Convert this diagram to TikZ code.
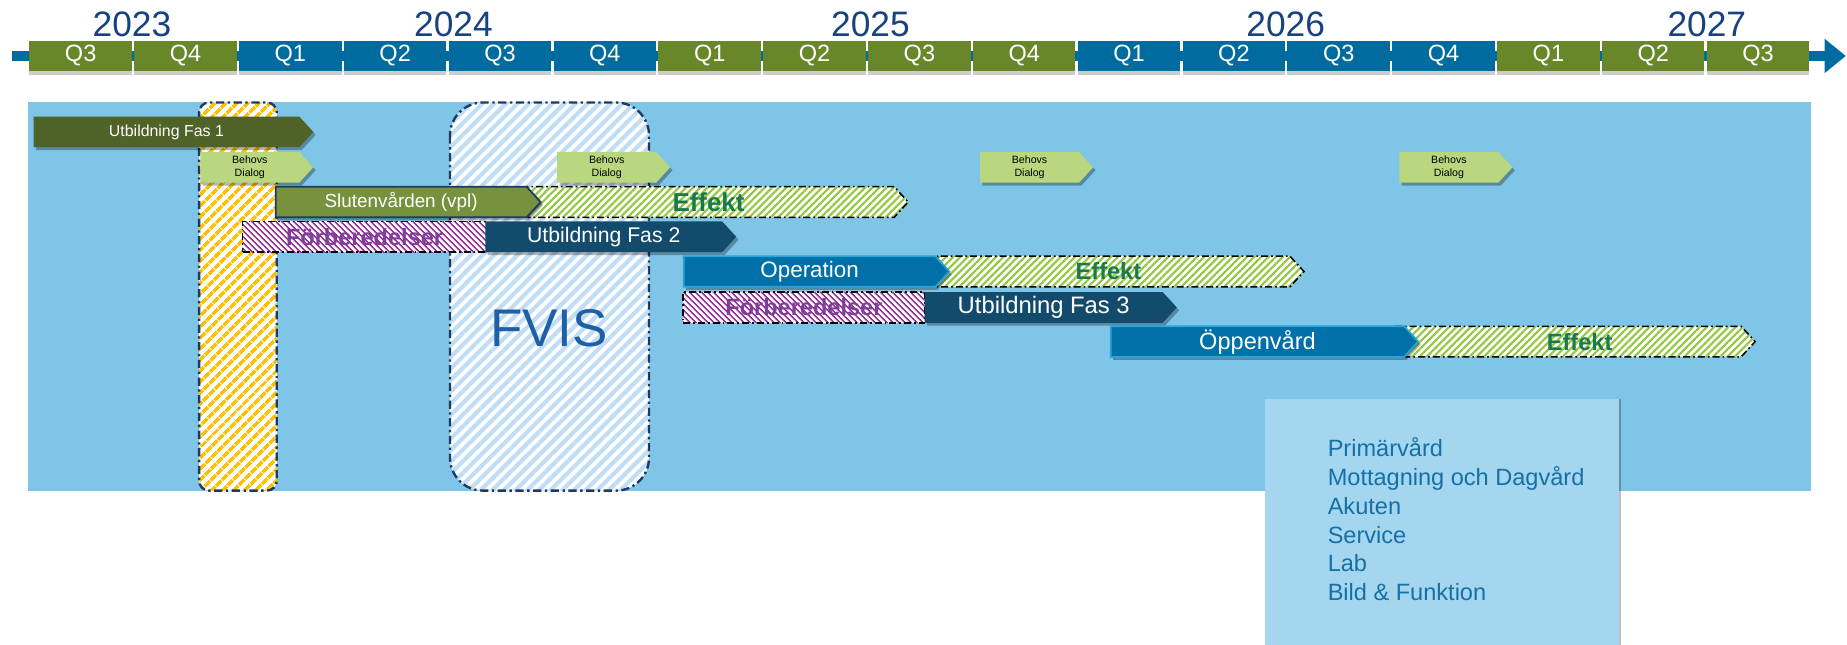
\documentclass[tikz,border=0pt]{standalone}
\usepackage{fontspec}
\setmainfont{Liberation Sans}
\usetikzlibrary{shapes.symbols,patterns.meta,shadows,arrows.meta}

\definecolor{yearblue}{HTML}{17427F}
\definecolor{qgreen}{HTML}{678728}
\definecolor{qblue}{HTML}{006B9F}
\definecolor{panelblue}{HTML}{7EC5E7}
\definecolor{fasgreen}{HTML}{4F6228}
\definecolor{behovsgreen}{HTML}{B9D77F}
\definecolor{slutengreen}{HTML}{76923C}
\definecolor{darknavy}{HTML}{1F3864}
\definecolor{effektlines}{HTML}{92C83E}
\definecolor{effekttext}{HTML}{1A7A4C}
\definecolor{forblines}{HTML}{993399}
\definecolor{forbtext}{HTML}{7F3F98}
\definecolor{fasnavy}{HTML}{124B6C}
\definecolor{opblue}{HTML}{0070A8}
\definecolor{opborder}{HTML}{2AA3DB}
\definecolor{fvislines}{HTML}{BFDDF7}
\definecolor{fvistext}{HTML}{1F5FA6}
\definecolor{yellowlines}{HTML}{FFC000}
\definecolor{infoblue}{HTML}{A4D6EF}
\definecolor{infotext}{HTML}{1570A6}

\begin{document}
\begin{tikzpicture}[x=1pt, y=-1pt,
                    ynode/.style = {text=yearblue,
                                    inner sep=0pt,
                                    font=\fontsize{30}{36}\selectfont},
                    qnode/.style = {shape=rectangle,
                                    minimum width=87pt,
                                    minimum height=25pt,
                                    inner sep=0pt,
                                    text=white,
                                    font=\fontsize{20}{24}\selectfont,
                                    drop shadow={shadow xshift=0pt, shadow yshift=-4pt, opacity=.2, fill=black}},
                    chev/.style = {shape=signal,
                                   signal to=east,
                                   signal pointer angle=95,
                                   anchor=west,
                                   minimum height=26pt,
                                   inner sep=0pt,
                                   outer sep=0pt,
                                   text=white},
                    solid/.style = {chev,
                                    drop shadow={shadow xshift=2pt, shadow yshift=-2.5pt, opacity=.3, fill=black}},
                    dashdot/.style = {draw=black,
                                      line width=1.3pt,
                                      dash pattern=on 6pt off 2.5pt on 1.5pt off 2.5pt},
                    effekt/.style = {chev, dashdot,
                                     preaction={fill=white},
                                     pattern={Lines[angle=45, distance=4.3pt, line width=1.8pt]},
                                     pattern color=effektlines},
                    etxt/.style = {text=effekttext,
                                   inner sep=0pt,
                                   font=\bfseries\fontsize{20}{24}\selectfont},
                    forb/.style = {shape=rectangle, dashdot,
                                   anchor=west,
                                   minimum height=26pt,
                                   inner sep=0pt,
                                   outer sep=0pt,
                                   preaction={fill=white},
                                   pattern={Lines[angle=-45, distance=4pt, line width=1.7pt]},
                                   pattern color=forblines,
                                   text=forbtext,
                                   font=\bfseries\fontsize{20}{24}\selectfont},
                    behovs/.style = {solid,
                                     fill=behovsgreen,
                                     minimum width=96pt,
                                     text=black,
                                     align=center,
                                     font=\fontsize{9}{10.8}\selectfont},
                    column/.style = {draw=darknavy,
                                     line width=2pt,
                                     dash pattern=on 7pt off 3pt on 2pt off 3pt,
                                     preaction={fill=white}}]
  \useasboundingbox (0,0) rectangle (1568,547);

  % time axis
  \coordinate (tstart) at (10,47.5);
  \coordinate (tend) at (1567,47.5);
  \draw[qblue, line width=8pt, -{Triangle[length=18pt, width=28pt]}] (tstart) -- (tend);
  \foreach \q/\c [count=\i from 0] in {Q3/qgreen, Q4/qgreen, Q1/qblue, Q2/qblue, Q3/qblue, Q4/qblue,
                                      Q1/qgreen, Q2/qgreen, Q3/qgreen, Q4/qgreen, Q1/qblue, Q2/qblue,
                                      Q3/qblue, Q4/qblue, Q1/qgreen, Q2/qgreen, Q3/qgreen}
    \node[qnode, fill=\c] (q\i) at ({68.5+89*\i}, 47.5) {\q};
  \node[ynode] (y2023) at (112,20.5) {2023};
  \node[ynode] (y2024) at (385,20.5) {2024};
  \node[ynode] (y2025) at (739,20.5) {2025};
  \node[ynode] (y2026) at (1091.5,20.5) {2026};
  \node[ynode] (y2027) at (1449,20.5) {2027};

  % background and columns
  \fill[panelblue] (24,87) rectangle (1537,416.5);
  \draw[column, rounded corners=8.5pt,
        pattern={Lines[angle=45, distance=7.4pt, line width=3.3pt]}, pattern color=yellowlines]
    (169,87) rectangle (235,416.5);
  \draw[column, rounded corners=28pt,
        pattern={Lines[angle=45, distance=7pt, line width=3.5pt]}, pattern color=fvislines]
    (382,87) rectangle (551,416.5);
  \node[text=fvistext, font=\fontsize{45}{54}\selectfont] (fvis) at (466,279) {FVIS};

  % rows
  \node[solid, fill=fasgreen, minimum width=237.5pt, font=\fontsize{13.5}{16}\selectfont] (fas1) at (28.5,112) {Utbildning Fas 1};

  \node[behovs] (bd1) at (170,142) {Behovs\\Dialog};
  \node[behovs] (bd2) at (473,142) {Behovs\\Dialog};
  \node[behovs] (bd3) at (832,142) {Behovs\\Dialog};
  \node[behovs] (bd4) at (1188,142) {Behovs\\Dialog};

  \node[effekt, minimum width=324pt] (eff1) at (447,171.5) {};
  \node[etxt, font=\bfseries\fontsize{22}{26}\selectfont] (eff1t) at (601.5,171.5) {Effekt};
  \node[solid, fill=slutengreen, draw=darknavy, line width=1.5pt, minimum width=225pt,
        font=\fontsize{16}{19}\selectfont] (sluten) at (234,171.5) {Slutenvården (vpl)};

  \node[forb, minimum width=207pt] (forb1) at (206,201) {Förberedelser};
  \node[solid, fill=fasnavy, minimum width=213pt, font=\fontsize{18}{22}\selectfont] (fas2) at (412,201) {Utbildning Fas 2};

  \node[effekt, minimum width=311pt] (eff2) at (796,230.5) {};
  \node[etxt] (eff2t) at (941,230.5) {Effekt};
  \node[solid, fill=opblue, draw=opborder, line width=1.5pt, minimum width=225.5pt,
        font=\fontsize{19}{23}\selectfont] (oper) at (580.5,230.5) {Operation};

  \node[forb, minimum width=205pt] (forb2) at (580,261) {Förberedelser};
  \node[solid, fill=fasnavy, minimum width=214pt, font=\fontsize{20.2}{24}\selectfont] (fas3) at (785,261) {Utbildning Fas 3};

  \node[effekt, minimum width=305pt] (eff3) at (1185,290) {};
  \node[etxt] (eff3t) at (1341,290) {Effekt};
  \node[solid, fill=opblue, draw=opborder, line width=1.5pt, minimum width=261pt,
        font=\fontsize{20}{24}\selectfont] (oppen) at (943,290) {Öppenvård};

  % units
  \fill[infoblue, drop shadow={shadow xshift=2pt, shadow yshift=0pt, opacity=.25, fill=black}] (1074,339) rectangle (1374,560);
  \node[anchor=north west, align=left, inner sep=0pt, text=infotext, font=\fontsize{20}{24.4}\selectfont] (units) at (1127,371.5)
    {Primärvård\\Mottagning och Dagvård\\Akuten\\Service\\Lab\\Bild \& Funktion};
\end{tikzpicture}
\end{document}
